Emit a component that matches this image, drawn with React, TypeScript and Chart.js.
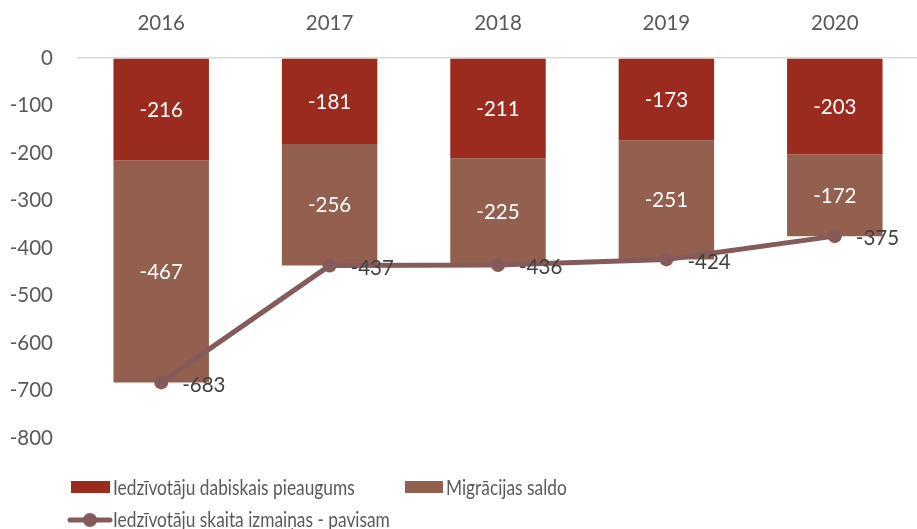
import React, { useEffect, useRef } from "react";
import { Chart, registerables } from "chart.js";

Chart.register(...registerables);

const years = ["2016", "2017", "2018", "2019", "2020"];
const naturalGrowth = [-216, -181, -211, -173, -203];
const migrationBalance = [-467, -256, -225, -251, -172];
const totalChange = [-683, -437, -436, -424, -375];

const seriesNames = [
  "Iedzīvotāju dabiskais pieaugums",
  "Migrācijas saldo",
  "Iedzīvotāju skaita izmaiņas - pavisam",
];

const RED = "#9B2B1F";
const BROWN = "#936050";
const LINE = "#855A5B";
const FONT = "Lato, 'Open Sans', sans-serif";
const NUM_SIZE = 20.5;

const labelsPlugin = {
  id: "valueLabels",
  afterDatasetsDraw(chart: any) {
    const ctx = chart.ctx;
    ctx.save();
    ctx.font = `${NUM_SIZE}px ${FONT}`;
    chart.data.datasets.forEach((ds: any, di: number) => {
      const meta = chart.getDatasetMeta(di);
      meta.data.forEach((el: any, i: number) => {
        const v = ds.data[i];
        if (ds.type === "line") {
          ctx.fillStyle = "#404040";
          ctx.textAlign = "left";
          ctx.textBaseline = "middle";
          ctx.fillText(String(v), el.x + 21, el.y + 2.5);
        } else {
          ctx.fillStyle = "#ffffff";
          ctx.textAlign = "center";
          ctx.textBaseline = "middle";
          ctx.fillText(String(v), el.x, (el.y + el.base) / 2 + 1);
        }
      });
    });
    ctx.restore();
  },
};

function drawCondensed(ctx: any, text: string, x: number, y: number) {
  ctx.save();
  ctx.translate(x, y);
  ctx.scale(0.845, 1);
  ctx.fillText(text, 0, 0);
  ctx.restore();
}

const legendPlugin = {
  id: "customLegend",
  afterDraw(chart: any) {
    const ctx = chart.ctx;
    ctx.save();
    ctx.font = `20.5px ${FONT}`;
    ctx.textBaseline = "middle";
    ctx.textAlign = "left";
    // row 1
    ctx.fillStyle = RED;
    ctx.fillRect(71, 481, 39, 12);
    ctx.fillStyle = "#595959";
    drawCondensed(ctx, seriesNames[0], 113, 488);
    ctx.fillStyle = BROWN;
    ctx.fillRect(405, 481, 38, 12);
    ctx.fillStyle = "#595959";
    drawCondensed(ctx, seriesNames[1], 446, 488);
    // row 2
    ctx.strokeStyle = LINE;
    ctx.lineWidth = 5;
    ctx.lineCap = "round";
    ctx.beginPath();
    ctx.moveTo(70, 520);
    ctx.lineTo(110, 520);
    ctx.stroke();
    ctx.fillStyle = LINE;
    ctx.beginPath();
    ctx.arc(90, 520, 7, 0, Math.PI * 2);
    ctx.fill();
    ctx.fillStyle = "#595959";
    drawCondensed(ctx, seriesNames[2], 113, 520);
    ctx.restore();
  },
};

export default function App() {
  const ref = useRef<HTMLCanvasElement>(null);
  useEffect(() => {
    if (!ref.current) return;
    const chart = new Chart(ref.current, {
      type: "bar",
      data: {
        labels: years,
        datasets: [
          {
            type: "line",
            label: seriesNames[2],
            data: totalChange,
            borderColor: LINE,
            backgroundColor: LINE,
            borderWidth: 5,
            pointRadius: 7,
            pointBackgroundColor: LINE,
            pointBorderWidth: 0,
            stack: "total",
            order: 0,
          } as any,
          {
            label: seriesNames[0],
            data: naturalGrowth,
            backgroundColor: RED,
            stack: "bars",
            order: 1,
            categoryPercentage: 1,
            barPercentage: 0.567,
          },
          {
            label: seriesNames[1],
            data: migrationBalance,
            backgroundColor: BROWN,
            stack: "bars",
            order: 1,
            categoryPercentage: 1,
            barPercentage: 0.567,
          },
        ],
      },
      options: {
        animation: false,
        responsive: false,
        maintainAspectRatio: false,
        layout: { padding: { top: 0, right: 1, bottom: 91, left: 0 } },
        plugins: { legend: { display: false }, tooltip: { enabled: false } },
        scales: {
          x: {
            position: "top",
            stacked: true,
            grid: { display: false, drawTicks: false },
            border: { display: false },
            ticks: { color: "#595959", font: { family: FONT, size: NUM_SIZE }, padding: 22 },
            afterFit(scale: any) {
              scale.height = 58;
            },
          },
          y: {
            stacked: true,
            min: -800,
            max: 0,
            ticks: {
              stepSize: 100,
              color: "#595959",
              font: { family: FONT, size: NUM_SIZE },
              padding: 24,
            },
            grid: {
              drawTicks: false,
              color: (c: any) => (c.tick && c.tick.value === 0 ? "#D9D9D9" : "rgba(0,0,0,0)"),
              lineWidth: 1.5,
            },
            border: { display: false },
            afterFit(scale: any) {
              scale.width = 77;
            },
          },
        },
      },
      plugins: [labelsPlugin, legendPlugin],
    });
    return () => chart.destroy();
  }, []);
  return (
    <div style={{ position: "fixed", left: 0, top: 0, width: 926, height: 529, background: "#fff" }}>
      <canvas ref={ref} width={926} height={529} style={{ display: "block" }} />
    </div>
  );
}
